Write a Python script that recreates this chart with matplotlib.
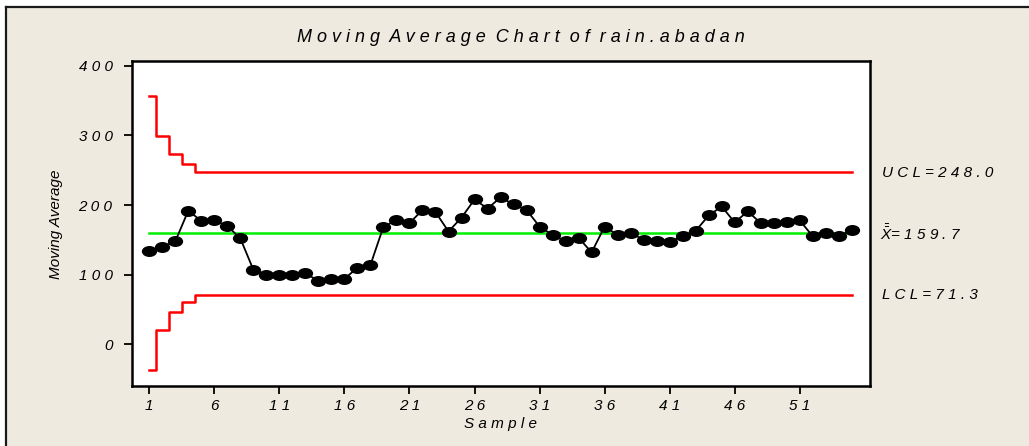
import matplotlib
matplotlib.use("Agg")
import matplotlib.pyplot as plt
import numpy as np
from matplotlib.path import Path
from matplotlib.patches import Rectangle
from matplotlib.lines import Line2D

plt.rcParams['font.family'] = ['Liberation Sans', 'DejaVu Sans']
plt.rcParams['mathtext.fontset'] = 'custom'
plt.rcParams['mathtext.it'] = 'Liberation Sans:italic'
plt.rcParams['mathtext.rm'] = 'Liberation Sans:italic'

# moving averages
moving_avg = [134, 140, 148, 192, 177, 178, 170, 152, 107, 100,
              99, 99, 102, 91, 94, 94, 110, 114, 169, 178,
              174, 193, 190, 162, 182, 208, 195, 211, 201, 193,
              169, 157, 148, 153, 132, 169, 157, 160, 150, 148,
              147, 155, 163, 185, 198, 175, 191, 174, 174, 175,
              178, 155, 160, 155, 164]
center = 159.7
ucl_start = [357.1, 299.3, 273.7, 258.4]
ucl = 248.0
lcl_start = [-37.7, 20.1, 45.7, 61.0]
lcl = 71.3

x_ticks = [1, 6, 11, 16, 21, 26, 31, 36, 41, 46, 51]
y_ticks = [0, 100, 200, 300, 400]

def spaced(s):
    return ' '.join(str(s))

W, H = 1029, 446
bg = '#EEEAE0'
fig = plt.figure(figsize=(W / 100, H / 100), dpi=100, facecolor='white')
fig.patches.append(Rectangle((6 / W, 0), 1, 1 - 7 / H, transform=fig.transFigure,
                             facecolor=bg, edgecolor='none', zorder=-10))
fig.lines.append(Line2D([6 / W, 1], [1 - 6.5 / H] * 2, transform=fig.transFigure,
                        color='#1a1a1a', lw=1.6))
fig.lines.append(Line2D([6 / W] * 2, [0, 1 - 6.5 / H], transform=fig.transFigure,
                        color='#1a1a1a', lw=1.6))

ax = fig.add_axes([132 / W, 1 - 386 / H, (870 - 132) / W, (386 - 61) / H])
ax.set_facecolor('white')

n = len(moving_avg)
samples = np.arange(1, n + 1)
ucl_line = ucl_start + [ucl] * (n - len(ucl_start))
lcl_line = lcl_start + [lcl] * (n - len(lcl_start))

ax.step(samples, ucl_line, where='mid', color='#ff0000', lw=1.8)
ax.step(samples, lcl_line, where='mid', color='#ff0000', lw=1.8)
ax.plot([1, n], [center, center], color='#00ee00', lw=1.8)

circ = Path.unit_circle()
ellipse = Path(circ.vertices * [1.45, 1.0], circ.codes)
ax.plot(samples, moving_avg, color='black', lw=1.3, marker=ellipse,
        markersize=10, markerfacecolor='black', markeredgecolor='black')

ax.set_xlim(-0.33, 56.4)
ax.set_ylim(-60, 407)
ax.set_xticks(x_ticks)
ax.set_xticklabels([spaced(v) for v in x_ticks], fontsize=11, style='italic')
ax.set_yticks(y_ticks)
ax.set_yticklabels([spaced(v) for v in y_ticks], fontsize=11, style='italic')
ax.tick_params(length=6, width=1.3)
ax.tick_params(axis='x', pad=3)
ax.tick_params(axis='y', pad=8)
for sp in ax.spines.values():
    sp.set_linewidth(1.8)

fig.text(56 / W, 1 - 224 / H, 'Moving Average', rotation=90, fontsize=11,
         style='italic', ha='center', va='center')
fig.text(500 / W, 1 - 424 / H, spaced('Sample'), fontsize=11, style='italic',
         ha='center', va='center')
fig.text(521 / W, 1 - 37 / H, '  '.join(spaced(w) for w in 'Moving Average Chart of rain.abadan'.split()),
         fontsize=13, style='italic', ha='center', va='center')

fig.text(882 / W, 1 - 173 / H, spaced('UCL=248.0'), fontsize=11, style='italic',
         ha='left', va='center')
fig.text(880 / W, 1 - 233 / H, r'$\bar{\bar{X}}$' + '= ' + spaced('159.7'), fontsize=11,
         style='italic', ha='left', va='center')
fig.text(882 / W, 1 - 295 / H, spaced('LCL=71.3'), fontsize=11, style='italic',
         ha='left', va='center')

fig.savefig('out.png', dpi=100, facecolor=fig.get_facecolor())
